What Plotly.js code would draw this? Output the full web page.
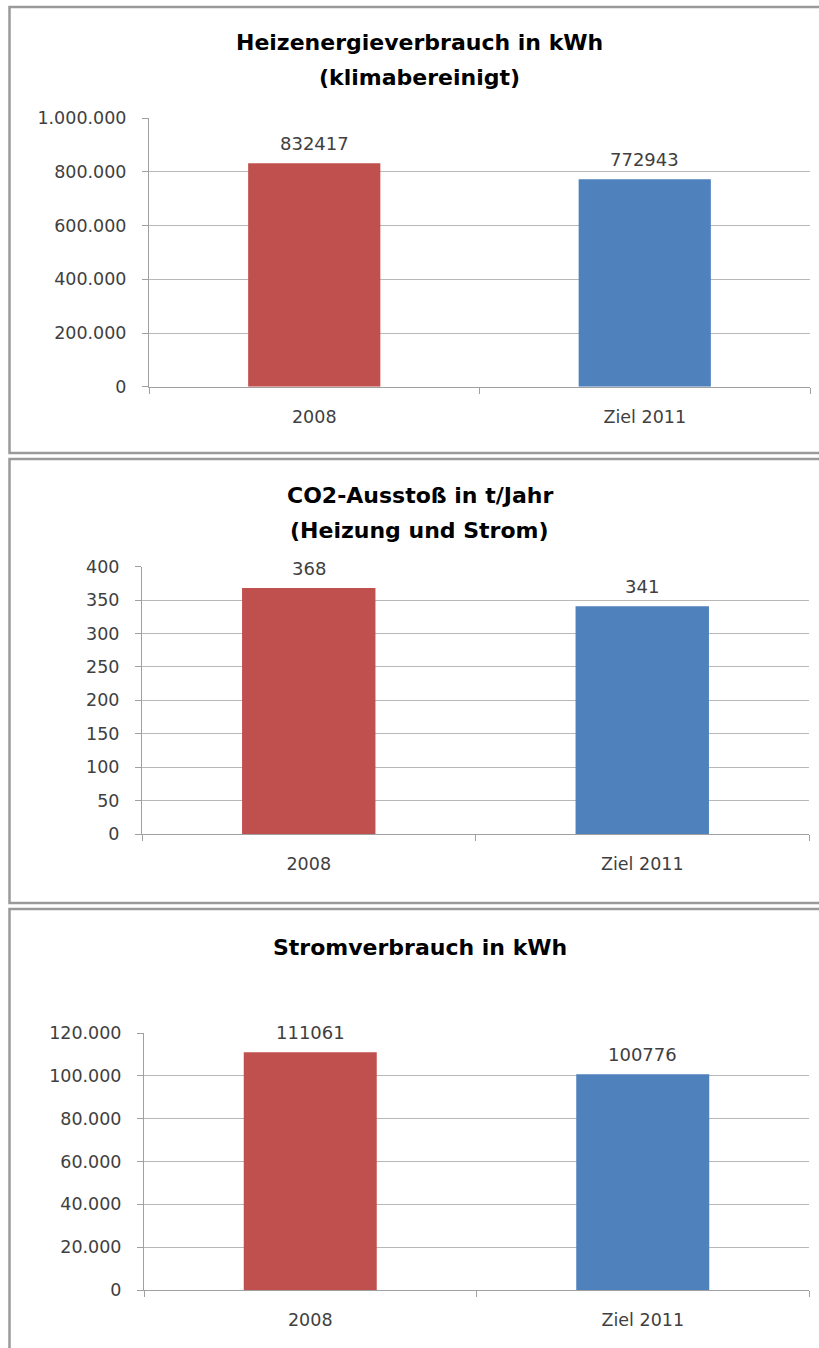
<!DOCTYPE html>
<html>
<head>
<meta charset="utf-8">
<script src="https://cdn.plot.ly/plotly-3.0.1.min.js"></script>
<style>html,body{margin:0;padding:0;background:#fff;}</style>
</head>
<body>
<div id="chart" style="width:819px;height:1348px;"></div>
<script>
// ---- data ----
var categories = ['2008', 'Ziel 2011'];
var heizValues = [832417, 772943];
var co2Values = [368, 341];
var stromValues = [111061, 100776];

var heizTitle = ['Heizenergieverbrauch in kWh', '(klimabereinigt)'];
var co2Title = ['CO2-Ausstoß in t/Jahr', '(Heizung und Strom)'];
var stromTitle = ['Stromverbrauch in kWh'];

var heizTicks = [0, 1000000, 200000];
var co2Ticks = [0, 400, 50];
var stromTicks = [0, 120000, 20000];

// ---- styles ----
var barColors = ['#C0504D', '#4F81BD'];
var FONT = 'DejaVu Sans, sans-serif';
var textGray = '#404040';
var gridColor = '#b8b8b8';
var axisColor = '#a0a0a0';
var H = 1348;
function py(px) { return 1 - px / H; }

var panels = [
  {vals: heizValues, title: heizTitle, ticks: heizTicks, xd: [149/819, 810/819], yd: [py(386.7), py(118.3)], titleY: [43, 78], frame: [7, 453]},
  {vals: co2Values, title: co2Title, ticks: co2Ticks, xd: [142/819, 809/819], yd: [py(834), py(566.7)], titleY: [495, 530], frame: [459, 903]},
  {vals: stromValues, title: stromTitle, ticks: stromTicks, xd: [144/819, 809/819], yd: [py(1290), py(1033)], titleY: [947], frame: [909, 1370]}
];

var data = [];
var layout = {
  width: 819, height: 1348,
  margin: {l: 0, r: 0, t: 0, b: 0},
  paper_bgcolor: '#fff', plot_bgcolor: '#fff',
  separators: ',.',
  showlegend: false,
  bargap: 0.6,
  annotations: [],
  shapes: []
};

panels.forEach(function (p, i) {
  var sfx = i === 0 ? '' : String(i + 1);
  data.push({
    type: 'bar',
    x: categories,
    y: p.vals,
    marker: {color: barColors},
    xaxis: 'x' + sfx,
    yaxis: 'y' + sfx,
    hoverinfo: 'none'
  });
  layout['xaxis' + sfx] = {
    domain: p.xd,
    anchor: 'y' + sfx,
    type: 'category',
    categoryorder: 'array', categoryarray: categories,
    range: [-0.5, categories.length - 0.5],
    showline: true, linecolor: axisColor, linewidth: 1,
    ticks: 'outside', tickson: 'boundaries', ticklen: 6, tickcolor: axisColor,
    showgrid: false, zeroline: false,
    tickangle: 0,
    ticklabelstandoff: 14,
    tickfont: {family: FONT, size: 17.5, color: textGray},
    fixedrange: true
  };
  layout['yaxis' + sfx] = {
    domain: p.yd,
    anchor: 'x' + sfx,
    range: [p.ticks[0], p.ticks[1]],
    dtick: p.ticks[2], tick0: 0,
    tickformat: ',d',
    showline: true, linecolor: axisColor, linewidth: 1,
    ticks: 'outside', ticklen: 6, tickcolor: axisColor,
    showgrid: true, gridcolor: gridColor, gridwidth: 1,
    zeroline: false,
    ticklabelstandoff: 12,
    tickfont: {family: FONT, size: 17.5, color: textGray},
    fixedrange: true
  };
  // value labels (x given as category index)
  categories.forEach(function (c, k) {
    layout.annotations.push({
      xref: 'x' + sfx, yref: 'y' + sfx,
      x: k, y: p.vals[k],
      text: String(p.vals[k]),
      showarrow: false,
      yanchor: 'bottom', yshift: 7,
      font: {family: FONT, size: 18, color: textGray}
    });
  });
  // titles
  p.title.forEach(function (t, k) {
    layout.annotations.push({
      xref: 'paper', yref: 'paper',
      x: 420 / 819, y: py(p.titleY[k]),
      xanchor: 'center', yanchor: 'middle',
      text: '<b>' + t + '</b>',
      showarrow: false,
      font: {family: FONT, size: 22, color: '#000'}
    });
  });
  // frame
  layout.shapes.push({
    type: 'rect', xref: 'paper', yref: 'paper',
    x0: 9.5 / 819, x1: 1.05, y0: py(p.frame[1]), y1: py(p.frame[0]),
    line: {color: '#9a9a9a', width: 2.5},
    layer: 'below'
  });
});

Plotly.newPlot('chart', data, layout, {staticPlot: true, displayModeBar: false});
</script>
</body>
</html>
